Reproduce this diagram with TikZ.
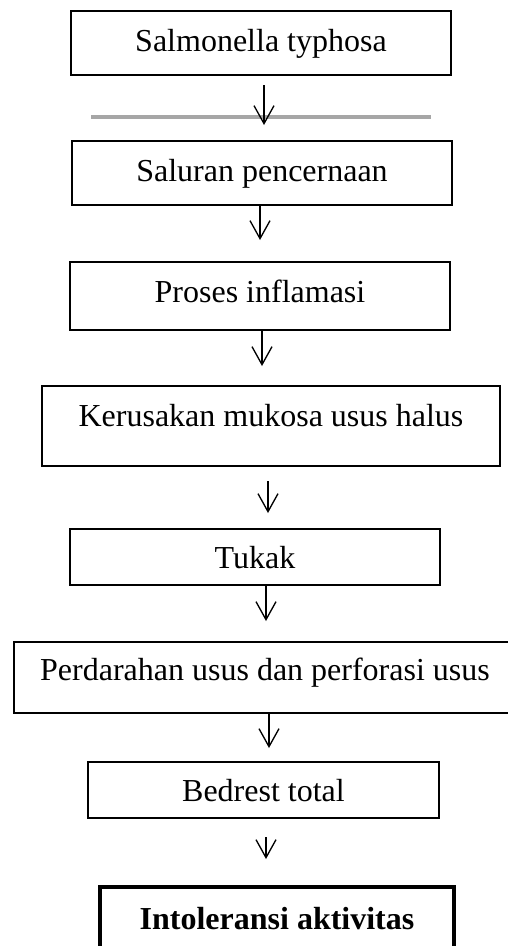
\documentclass[tikz,border=0pt]{standalone}
\usepackage{fontspec}
\setmainfont{Liberation Serif}
\usetikzlibrary{arrows.meta}
\definecolor{rulegray}{RGB}{166,166,166}

\begin{document}
\begin{tikzpicture}[x=0.75pt,y=-0.75pt]
    \tikzstyle{stepbox} = [rectangle, draw, line width=1.3pt, inner sep=0pt, text depth=6pt, font=\fontsize{24}{28}\selectfont]
    \tikzstyle{finalbox} = [stepbox, line width=3pt, font=\fontsize{24}{28}\selectfont\bfseries]
    \tikzstyle{flow} = [line width=1pt, -{Straight Barb[length=13.5pt,width=15pt]}]

    \useasboundingbox (0,0) rectangle (507,946);

    % Boxes, top to bottom
    \node[stepbox, minimum width=285pt, minimum height=48pt, text height=19pt] (salmonella) at (261,43) {Salmonella typhosa};
    \node[stepbox, minimum width=285pt, minimum height=48pt, text height=18pt] (saluran) at (262,173) {Saluran pencernaan};
    \node[stepbox, minimum width=285pt, minimum height=51pt, text height=15pt] (inflamasi) at (260,296) {Proses inflamasi};
    \node[stepbox, minimum width=343.5pt, minimum height=60pt, text height=6pt] (mukosa) at (271,426) {Kerusakan mukosa usus halus};
    \node[stepbox, minimum width=277.5pt, minimum height=42pt, text height=22.5pt] (tukak) at (255,557) {Tukak};
    % this one runs off the right edge
    \node[stepbox, minimum width=420pt, minimum height=53.25pt, text height=9.75pt] (perdarahan) at (294,677.5) {Perdarahan usus dan perforasi usus\hspace*{43.5pt}};
    \node[stepbox, minimum width=263.25pt, minimum height=42pt, text height=23.5pt] (bedrest) at (263.5,790) {Bedrest total};
    \node[finalbox, minimum width=265.5pt, minimum height=60pt, text height=9pt] (intoleransi) at (277,927) {Intoleransi aktivitas};

    % Gray rule under the first box
    \draw[rulegray, line width=2.5pt] (91,117) -- (431,117);

    % Arrow ends
    \coordinate (s1) at (264,85);
    \coordinate (t1) at (264,125);
    \coordinate (t2) at (260,240);
    \coordinate (t3) at (262,366);
    \coordinate (s4) at (268,481);
    \coordinate (t4) at (268,513);
    \coordinate (t5) at (266,621);
    \coordinate (t6) at (269,748);
    \coordinate (s7) at (266,837);
    \coordinate (t7) at (266,859);

    % Arrows
    \draw[flow] (s1) -- (t1);
    \draw[flow] (saluran.south -| t2) -- (t2);
    \draw[flow] (inflamasi.south -| t3) -- (t3);
    \draw[flow] (s4) -- (t4);
    \draw[flow] (tukak.south -| t5) -- (t5);
    \draw[flow] (perdarahan.south -| t6) -- (t6);
    \draw[flow] (s7) -- (t7);
\end{tikzpicture}
\end{document}
